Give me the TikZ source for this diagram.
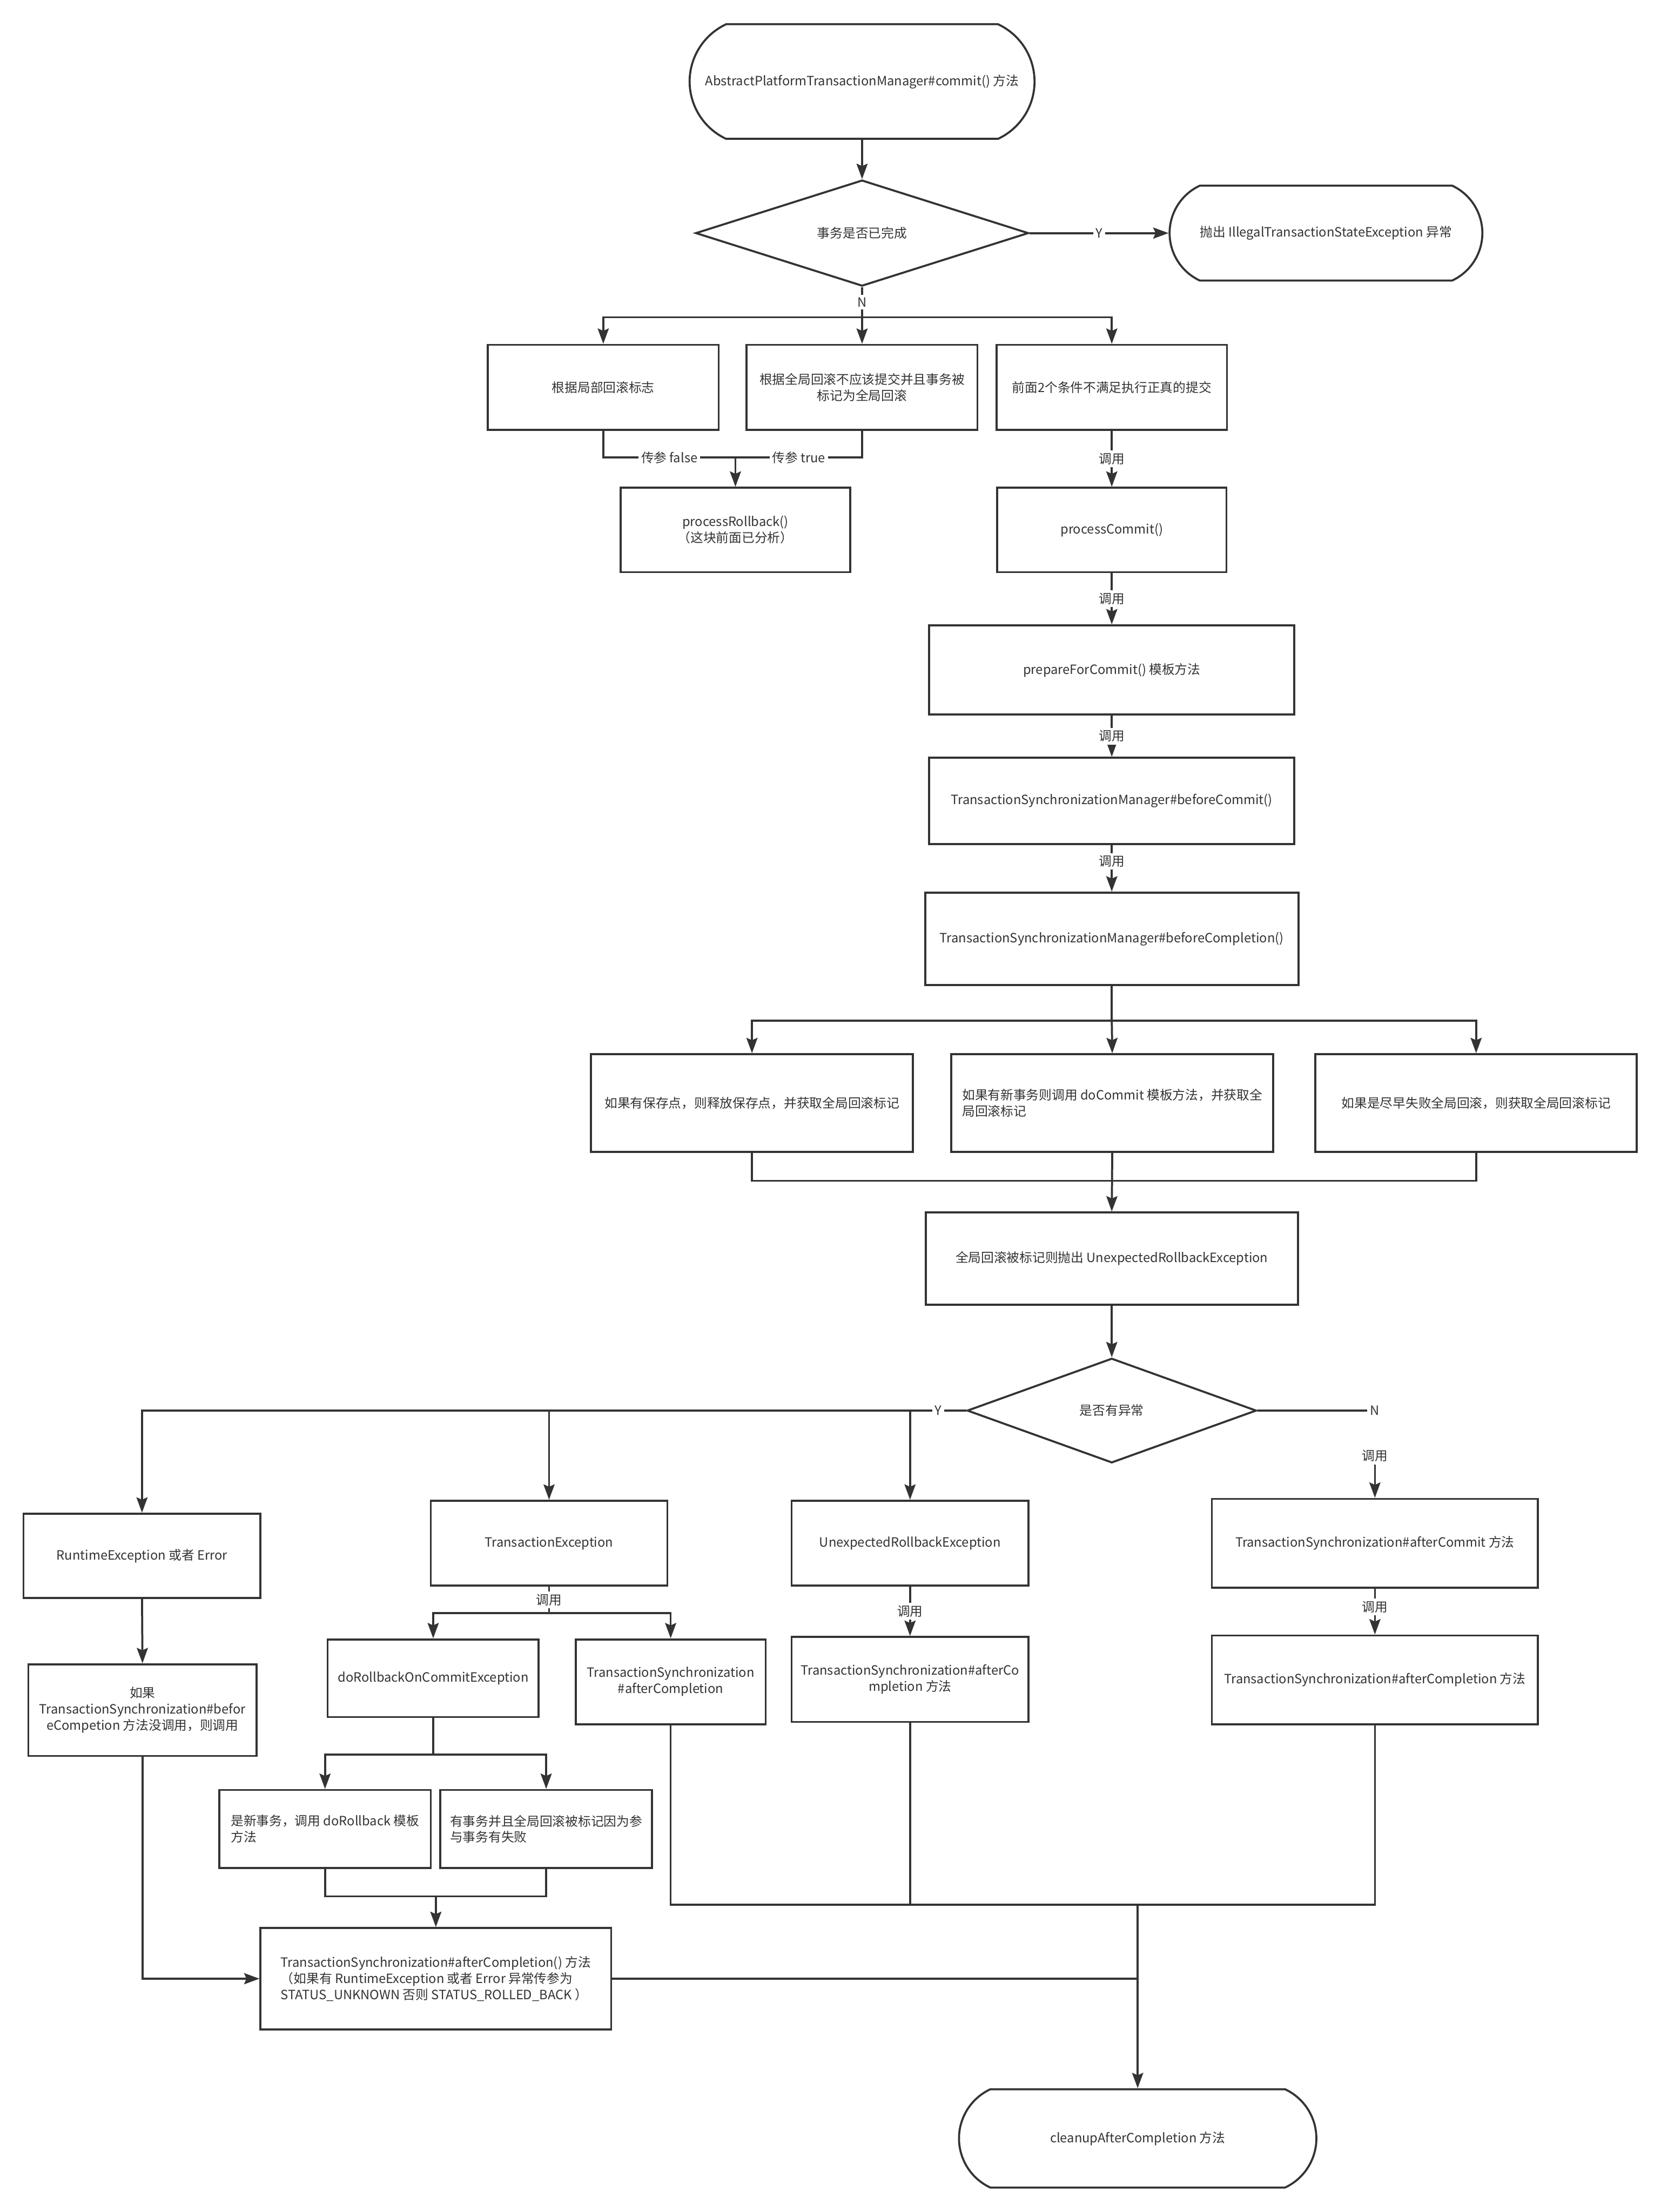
\documentclass[tikz,border=0pt]{standalone}
\usepackage{fontspec}
\setmainfont{Noto Sans CJK SC}
\usepackage{xcolor}
\usepackage{tikz}
\usetikzlibrary{arrows.meta,positioning,calc,shapes.geometric,shapes.misc}
\definecolor{ink}{HTML}{333333}

\begin{document}
\begin{tikzpicture}[
                font=\fontsize{7.6pt}{9.6pt}\selectfont, color=ink,
                block/.style={draw=ink, line width=1.2pt, align=center, inner sep=2pt},
                term/.style={draw=ink, line width=1.2pt, rounded rectangle, rounded rectangle arc length=130, align=center, inner sep=2pt},
                decision/.style={draw=ink, line width=1.2pt, diamond, aspect=3, inner sep=0pt, align=center},
                line/.style={draw=ink, line width=1.2pt},
                arr/.style={draw=ink, line width=1.2pt, -{Stealth[length=3.2mm, width=2.3mm, inset=0.5mm]}},
                lbl/.style={fill=white, inner sep=1.5pt}
            ]
            \path[use as bounding box, fill=white] (0,0) rectangle (34.62,-46.12);

            \node[term, minimum width=7.33cm, minimum height=2.39cm] (start) at (17.97,-1.70) {AbstractPlatformTransactionManager\#commit() 方法};
            \node[decision, minimum width=6.94cm, minimum height=2.21cm] (done) at (17.97,-4.86) {事务是否已完成};
            \node[term, minimum width=6.66cm, minimum height=1.98cm] (illegal) at (27.64,-4.86) {抛出 IllegalTransactionStateException 异常};

            \node[block, minimum width=4.81cm, minimum height=1.77cm] (localRb) at (12.575,-8.075) {根据局部回滚标志};
            \node[block, minimum width=4.81cm, minimum height=1.77cm] (globalRb) at (17.97,-8.075) {根据全局回滚不应该提交并且事务被\\标记为全局回滚};
            \node[block, minimum width=4.80cm, minimum height=1.77cm] (realCommit) at (23.175,-8.075) {前面2个条件不满足执行正真的提交};

            \node[block, minimum width=4.78cm, minimum height=1.76cm] (procRb) at (15.33,-11.05) {processRollback()\\（这块前面已分析）};
            \node[block, minimum width=4.78cm, minimum height=1.76cm] (procCommit) at (23.175,-11.05) {processCommit()};

            \node[block, minimum width=7.61cm, minimum height=1.86cm] (prepare) at (23.175,-13.97) {prepareForCommit() 模板方法};
            \node[block, minimum width=7.61cm, minimum height=1.80cm] (syncCommit) at (23.175,-16.70) {TransactionSynchronizationManager\#beforeCommit()};
            \node[block, minimum width=7.78cm, minimum height=1.93cm] (syncCompl) at (23.175,-19.575) {TransactionSynchronizationManager\#beforeCompletion()};

            \node[block, minimum width=6.71cm, minimum height=2.04cm] (savepoint) at (15.675,-23.00) {如果有保存点，则释放保存点，并获取全局回滚标记};
            \node[block, minimum width=6.71cm, minimum height=2.04cm, align=left] (newTx) at (23.185,-23.00) {如果有新事务则调用 doCommit 模板方法，并获取全\\局回滚标记};
            \node[block, minimum width=6.70cm, minimum height=2.04cm] (failEarly) at (30.77,-23.00) {如果是尽早失败全局回滚，则获取全局回滚标记};

            \node[block, minimum width=7.76cm, minimum height=1.92cm] (unexpThrow) at (23.175,-26.24) {全局回滚被标记则抛出 UnexpectedRollbackException};
            \node[decision, minimum width=6.03cm, minimum height=2.18cm] (hasEx) at (23.175,-29.41) {是否有异常};

            \node[block, minimum width=4.94cm, minimum height=1.76cm] (rtEx) at (2.96,-32.44) {RuntimeException 或者 Error};
            \node[block, minimum width=4.93cm, minimum height=1.77cm] (txEx) at (11.445,-32.175) {TransactionException};
            \node[block, minimum width=4.94cm, minimum height=1.77cm] (unexpEx) at (18.97,-32.175) {UnexpectedRollbackException};
            \node[block, minimum width=6.80cm, minimum height=1.85cm] (afterCommit) at (28.66,-32.175) {TransactionSynchronization\#afterCommit 方法};

            \node[block, minimum width=4.76cm, minimum height=1.91cm] (beforeCall) at (2.97,-35.655) {如果\\TransactionSynchronization\#befor\\eCompetion 方法没调用，则调用};
            \node[block, minimum width=4.40cm, minimum height=1.62cm] (doRbEx) at (9.03,-34.99) {doRollbackOnCommitException};
            \node[block, minimum width=3.96cm, minimum height=1.77cm] (txAfter) at (13.98,-35.065) {TransactionSynchronization\\\#afterCompletion};
            \node[block, minimum width=4.94cm, minimum height=1.77cm] (unexpAfter) at (18.97,-35.015) {TransactionSynchronization\#afterCo\\mpletion 方法};
            \node[block, minimum width=6.80cm, minimum height=1.85cm] (afterCompl) at (28.66,-35.025) {TransactionSynchronization\#afterCompletion 方法};

            \node[block, minimum width=4.41cm, minimum height=1.63cm, align=left] (newTxRb) at (6.775,-38.135) {是新事务，调用 doRollback 模板\\方法};
            \node[block, minimum width=4.41cm, minimum height=1.63cm, align=left] (partFail) at (11.385,-38.135) {有事务并且全局回滚被标记因为参\\与事务有失败};

            \node[block, minimum width=7.31cm, minimum height=2.11cm, align=left] (statusCall) at (9.085,-41.255) {TransactionSynchronization\#afterCompletion() 方法\\（如果有 RuntimeException 或者 Error 异常传参为\\STATUS\_UNKNOWN 否则 STATUS\_ROLLED\_BACK ）};
            \node[term, minimum width=7.59cm, minimum height=2.05cm] (cleanup) at (23.715,-44.585) {cleanupAfterCompletion 方法};

            \draw[arr] (start.south) -- (done.north);
            \draw[arr] (done.east) -- node[lbl] {Y} (illegal.west);
            \coordinate (splitN) at ($(done.south)+(0,-0.63)$);
            \draw[line] (done.south) -- node[lbl] {N} (splitN);
            \draw[arr] (splitN) -| (localRb.north);
            \draw[arr] (splitN) -- (globalRb.north);
            \draw[arr] (splitN) -| (realCommit.north);

            \coordinate (joinRb) at ($(procRb.north)+(0,0.61)$);
            \draw[line] (localRb.south) |- node[lbl, pos=0.75] {传参 false} (joinRb);
            \draw[line] (globalRb.south) |- node[lbl, pos=0.75] {传参 true} (joinRb);
            \draw[arr] (joinRb) -- (procRb.north);

            \draw[arr] (realCommit.south) -- node[lbl] {调用} (procCommit.north);
            \draw[arr] (procCommit.south) -- node[lbl] {调用} (prepare.north);
            \draw[arr] (prepare.south) -- node[lbl] {调用} (syncCommit.north);
            \draw[arr] (syncCommit.south) -- node[lbl, pos=0.35] {调用} (syncCompl.north);

            \coordinate (splitCommit) at ($(syncCompl.south)+(0,-0.72)$);
            \draw[line] (syncCompl.south) -- (splitCommit);
            \draw[arr] (splitCommit) -| (savepoint.north);
            \draw[arr] (splitCommit) -- (newTx.north);
            \draw[arr] (splitCommit) -| (failEarly.north);
            \coordinate (joinCommit) at ($(unexpThrow.north)+(0,0.64)$);
            \draw[line] (savepoint.south) |- (joinCommit);
            \draw[line] (failEarly.south) |- (joinCommit);
            \draw[arr] (newTx.south) -- (unexpThrow.north);
            \draw[arr] (unexpThrow.south) -- (hasEx.north);

            \coordinate (splitY) at (unexpEx.north |- hasEx.west);
            \draw[line] (hasEx.west) -- node[lbl] {Y} (splitY);
            \draw[arr] (splitY) -- (unexpEx.north);
            \draw[arr] (splitY) -| (txEx.north);
            \draw[arr] (splitY) -| (rtEx.north);
            \node[lbl] (noLbl) at (afterCommit.north |- hasEx.east) {N};
            \draw[line] (hasEx.east) -- (noLbl);
            \node[lbl] (callN) at ($(afterCommit.north)+(0,0.87)$) {调用};
            \draw[arr] (callN) -- (afterCommit.north);

            \draw[arr] (rtEx.south) -- (beforeCall.north);
            \coordinate (splitTx) at ($(txEx.south)+(0,-0.55)$);
            \draw[line] (txEx.south) -- node[lbl] {调用} (splitTx);
            \draw[arr] (splitTx) -| (doRbEx.north);
            \draw[arr] (splitTx) -| (txAfter.north);
            \draw[arr] (unexpEx.south) -- node[lbl] {调用} (unexpAfter.north);
            \draw[arr] (afterCommit.south) -- node[lbl, pos=0.4] {调用} (afterCompl.north);

            \coordinate (splitRb) at ($(doRbEx.south)+(0,-0.76)$);
            \draw[line] (doRbEx.south) -- (splitRb);
            \draw[arr] (splitRb) -| (newTxRb.north);
            \draw[arr] (splitRb) -| (partFail.north);
            \coordinate (joinRbEx) at ($(statusCall.north)+(0,0.64)$);
            \draw[line] (newTxRb.south) |- (joinRbEx);
            \draw[line] (partFail.south) |- (joinRbEx);
            \draw[arr] (joinRbEx) -- (statusCall.north);
            \draw[arr] (beforeCall.south) |- (statusCall.west);

            \coordinate (joinEnd) at ($(cleanup.north)+(0,3.83)$);
            \draw[line] (txAfter.south) |- (joinEnd);
            \draw[line] (unexpAfter.south) |- (joinEnd);
            \draw[line] (afterCompl.south) |- (joinEnd);
            \draw[line] (statusCall.east) -- (statusCall.east -| joinEnd);
            \draw[arr] (joinEnd) -- (cleanup.north);
        \end{tikzpicture}
\end{document}
